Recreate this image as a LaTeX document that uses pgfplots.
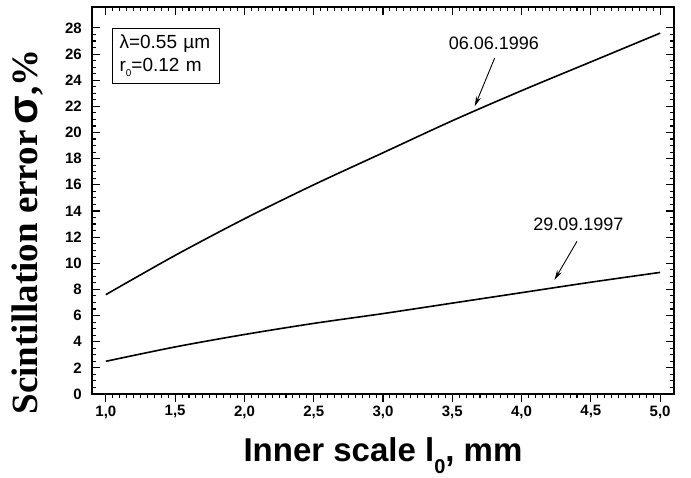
\documentclass[border=0pt]{standalone}
\usepackage{fontspec}
\setmainfont{Liberation Sans}
\newfontfamily\timesfont{Liberation Serif}
\newfontfamily\arialfont{Liberation Sans}
\usepackage{pgfplots}
\pgfplotsset{compat=1.18}
\usetikzlibrary{arrows.meta}

\pgfplotsset{
  common/.style={
    scale only axis, width=582pt, height=387pt,
    xmin=0.9, xmax=5.1, ymin=0, ymax=29.6,
    xtick={1,1.5,2,2.5,3,3.5,4,4.5,5}, minor x tick num=9,
    ytick={0,2,...,28}, minor y tick num=3,
    major tick length=8pt, minor tick length=4.5pt,
    tick style={black, line width=1.1pt},
    tick label style={font=\fontsize{15}{15}\selectfont\bfseries},
  }
}

\begin{document}
\begin{tikzpicture}
% box, y ticks (inside), top ticks
\begin{axis}[common,
  axis line style={line width=1.6pt},
  tick align=inside,
  xtick pos=top, xticklabel=\empty,
  ytick pos=both, yticklabel pos=left,
  yticklabel style={/pgf/number format/assume math mode=true, inner sep=0pt, xshift=-10pt},
  ylabel={\timesfont\bfseries\fontsize{37}{37}\selectfont Scintillation error\,{\arialfont\bfseries\fontsize{42}{42}\selectfont σ},\%},
  ylabel style={at={(axis description cs:-0.0928,0.419)}, anchor=base},
]
\addplot[line width=1.6pt, black, smooth] coordinates {
  (1.0,7.6) (1.5,10.6) (2.0,13.4) (2.5,16.0) (3.0,18.45)
  (3.5,20.9) (4.0,23.2) (4.5,25.4) (5.0,27.6)
};
\addplot[line width=1.6pt, black, smooth] coordinates {
  (1.0,2.5) (1.5,3.6) (2.0,4.55) (2.5,5.4) (3.0,6.15)
  (3.5,6.95) (4.0,7.75) (4.5,8.55) (5.0,9.3)
};
\node[font=\fontsize{18}{18}\selectfont] at (axis cs:3.80,26.8) {06.06.1996};
\draw[line width=0.9pt, -{Stealth[length=10pt,width=5pt]}] (axis cs:3.806,25.7) -- (axis cs:3.662,22.0);
\node[font=\fontsize{18}{18}\selectfont] at (axis cs:4.41,13.0) {29.09.1997};
\draw[line width=0.9pt, -{Stealth[length=10pt,width=5pt]}] (axis cs:4.40,11.68) -- (axis cs:4.237,8.72);
\node[draw, line width=1pt, anchor=north west, align=left, text width=93pt,
      inner xsep=7pt, inner ysep=6pt, font=\fontsize{19}{23}\selectfont]
  at (axis description cs:0.0344,0.9457)
  {λ=0.55 µm\\r\raisebox{-0.3em}{\fontsize{10}{10}\selectfont 0}=0.12 m};
\end{axis}
% bottom axis with outward ticks and labels
\begin{axis}[common,
  axis x line*=bottom, axis y line=none,
  x axis line style={line width=1.6pt, -},
  tick align=outside, ytick=\empty,
  xticklabel style={/pgf/number format/.cd, fixed, fixed zerofill, precision=1, use comma, assume math mode=true},
  xlabel={\bfseries\fontsize{33}{33}\selectfont Inner scale l\raisebox{-0.35em}{\fontsize{20}{20}\selectfont 0}, mm},
  xlabel style={at={(axis description cs:0.5,-0.1757)}, anchor=base},
]
\end{axis}
\path[use as bounding box] ([shift={(-92pt,-81pt)}]current axis.south west) rectangle ([shift={(17pt,7pt)}]current axis.north east);
\end{tikzpicture}
\end{document}
